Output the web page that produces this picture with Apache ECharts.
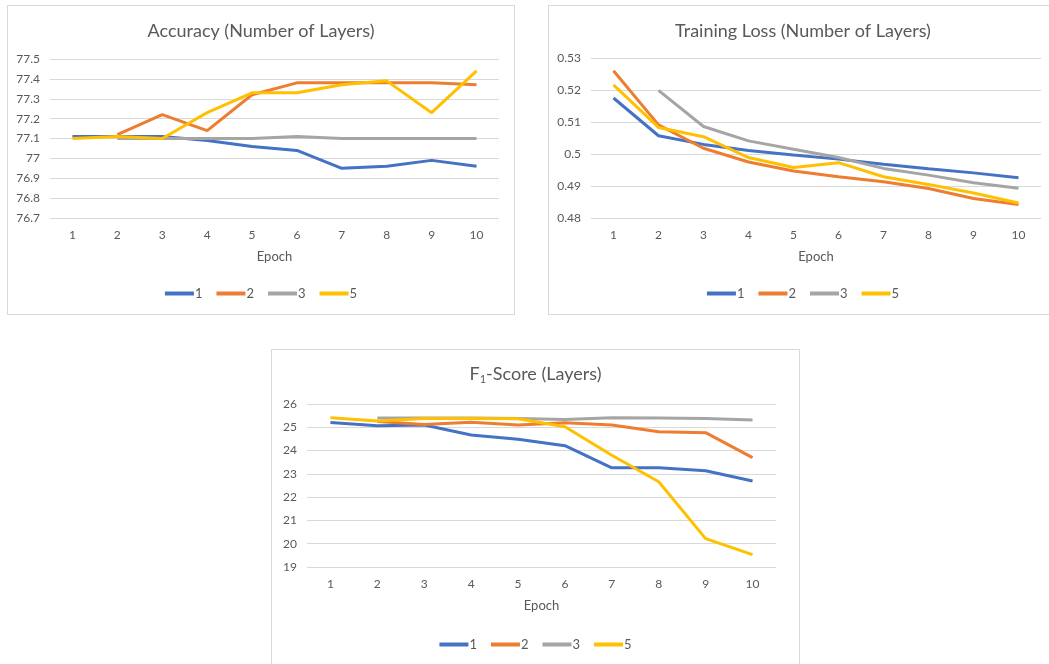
<!DOCTYPE html>
<html>
<head>
<meta charset="utf-8">
<script src="https://cdn.jsdelivr.net/npm/echarts@6/dist/echarts.min.js"></script>
<style>
html, body { margin: 0; padding: 0; background: #fff; width: 1049px; height: 664px; overflow: hidden; }
.panel { position: absolute; border: 1px solid #d9d9d9; background: #fff; box-sizing: border-box; }
</style>
</head>
<body>
<div id="acc" class="panel" style="left:7px; top:5px; width:508px; height:310px;"></div>
<div id="loss" class="panel" style="left:548px; top:5px; width:510px; height:310px;"></div>
<div id="f1" class="panel" style="left:271px; top:349px; width:529px; height:330px;"></div>
<script>
// epochs on the x axis
var epochs = ['1', '2', '3', '4', '5', '6', '7', '8', '9', '10'];
var layerNames = ['1', '2', '3', '5'];
var colors = ['#4472C4', '#ED7D31', '#A5A5A5', '#FFC000'];

// Accuracy (number of layers)
var acc1 = [77.11, 77.11, 77.11, 77.09, 77.06, 77.04, 76.95, 76.96, 76.99, 76.96];
var acc2 = [null, 77.12, 77.22, 77.14, 77.32, 77.38, 77.38, 77.38, 77.38, 77.37];
var acc3 = [null, 77.10, 77.10, 77.10, 77.10, 77.11, 77.10, 77.10, 77.10, 77.10];
var acc5 = [77.10, 77.11, 77.10, 77.23, 77.33, 77.33, 77.37, 77.39, 77.23, 77.44];

// Training loss (number of layers)
var loss1 = [0.5175, 0.5057, 0.5030, 0.5011, 0.4997, 0.4984, 0.4968, 0.4954, 0.4941, 0.4926];
var loss2 = [0.5260, 0.5091, 0.5018, 0.4975, 0.4947, 0.4929, 0.4913, 0.4892, 0.4861, 0.4842];
var loss3 = [null, 0.5199, 0.5086, 0.5041, 0.5015, 0.4989, 0.4955, 0.4934, 0.4910, 0.4893];
var loss5 = [0.5216, 0.5083, 0.5054, 0.4989, 0.4958, 0.4973, 0.4929, 0.4905, 0.4878, 0.4847];

// F1-score (layers)
var f1_1 = [25.21, 25.07, 25.10, 24.67, 24.49, 24.21, 23.26, 23.26, 23.13, 22.69];
var f1_2 = [null, 25.25, 25.12, 25.22, 25.10, 25.20, 25.10, 24.81, 24.77, 23.70];
var f1_3 = [null, 25.40, 25.40, 25.40, 25.38, 25.33, 25.41, 25.40, 25.38, 25.31];
var f1_5 = [25.41, 25.27, 25.38, 25.38, 25.37, 25.02, 23.80, 22.66, 20.22, 19.53];

var font = 'Lato, "Open Sans", sans-serif';
var txt = '#595959';

function makeSeries(list) {
	var out = [];
	for (var i = 0; i < list.length; i++) {
		out.push({
			name: layerNames[i],
			type: 'line',
			data: list[i],
			showSymbol: false,
			symbol: 'none',
			lineStyle: { width: 3, color: colors[i] },
			itemStyle: { color: colors[i] }
		});
	}
	return out;
}

function buildOption(cfg) {
	return {
		animation: false,
		textStyle: { fontFamily: font, color: txt },
		title: {
			text: cfg.title,
			left: 'center',
			top: cfg.titleTop,
			textStyle: {
				fontFamily: font, fontSize: 18, fontWeight: 'normal', color: txt,
				rich: cfg.rich
			}
		},
		legend: {
			data: layerNames,
			bottom: cfg.legendBottom,
			left: 'center',
			icon: 'rect',
			itemWidth: 29,
			itemHeight: 4,
			itemGap: 14,
			textStyle: { fontFamily: font, fontSize: 13, color: txt, padding: [0, 0, 0, -4] }
		},
		grid: cfg.grid,
		xAxis: {
			type: 'category',
			data: epochs,
			boundaryGap: true,
			name: 'Epoch',
			nameLocation: 'middle',
			nameGap: cfg.nameGap,
			nameTextStyle: { fontFamily: font, fontSize: 13, color: txt },
			axisLine: { show: false },
			axisTick: { show: false },
			axisLabel: { fontFamily: font, fontSize: 12, color: txt, margin: 11 },
			splitLine: { show: false }
		},
		yAxis: {
			type: 'value',
			min: cfg.min,
			max: cfg.max,
			interval: cfg.interval,
			axisLine: { show: false },
			axisTick: { show: false },
			axisLabel: { fontFamily: font, fontSize: 12, color: txt, margin: 10 },
			splitLine: { lineStyle: { color: '#d9d9d9', width: 1 } }
		},
		series: makeSeries(cfg.data)
	};
}

var accChart = echarts.init(document.getElementById('acc'));
accChart.setOption(buildOption({
	title: 'Accuracy (Number of Layers)',
	titleTop: 11,
	legendBottom: 9,
	grid: { left: 42, top: 53, width: 449, height: 159 },
	nameGap: 32,
	min: 76.7, max: 77.5, interval: 0.1,
	data: [acc1, acc2, acc3, acc5]
}));

var lossChart = echarts.init(document.getElementById('loss'));
lossChart.setOption(buildOption({
	title: 'Training Loss (Number of Layers)',
	titleTop: 11,
	legendBottom: 9,
	grid: { left: 42, top: 52, width: 450, height: 160 },
	nameGap: 32,
	min: 0.48, max: 0.53, interval: 0.01,
	data: [loss1, loss2, loss3, loss5]
}));

var f1Chart = echarts.init(document.getElementById('f1'));
f1Chart.setOption(buildOption({
	title: '{a|F}{s|1}{a|-Score (Layers)}',
	rich: {
		a: { fontFamily: font, fontSize: 18, color: txt },
		s: { fontFamily: font, fontSize: 11, color: txt, padding: [10, 0, 0, 0] }
	},
	titleTop: 9,
	legendBottom: 22,
	grid: { left: 35, top: 54, width: 469, height: 163 },
	nameGap: 32,
	min: 19, max: 26, interval: 1,
	data: [f1_1, f1_2, f1_3, f1_5]
}));
</script>
</body>
</html>
